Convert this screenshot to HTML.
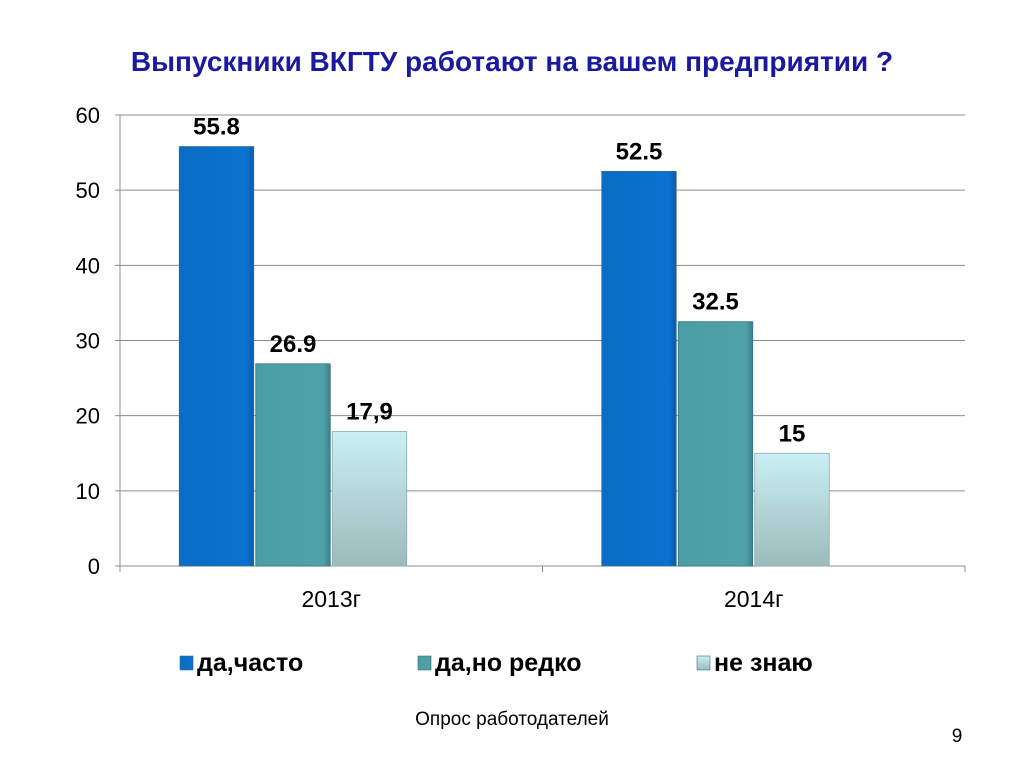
<!DOCTYPE html>
<html><head><meta charset="utf-8"><style>
body{margin:0;background:#fff;}
svg{display:block;font-family:"Liberation Sans","DejaVu Sans",sans-serif;}
</style></head><body>
<svg id="c" width="1024" height="768">
<defs>
<linearGradient id="g0" x1="0" x2="1"><stop offset="0" stop-color="#0a6cc4"/><stop offset="0.9" stop-color="#0a72d0"/><stop offset="1" stop-color="#0a5aa8"/></linearGradient>
<linearGradient id="g1" x1="0" x2="1"><stop offset="0" stop-color="#4a9ea4"/><stop offset="0.9" stop-color="#4fa3a8"/><stop offset="1" stop-color="#3b8288"/></linearGradient>
<linearGradient id="g2" x1="0" x2="0" y1="0" y2="1"><stop offset="0" stop-color="#c9f0f4"/><stop offset="1" stop-color="#9dbabc"/></linearGradient>
</defs>
<text x="512" y="71" text-anchor="middle" font-size="28" font-weight="bold" fill="#1a1aa0">Выпускники ВКГТУ работают на вашем предприятии ?</text>
<text x="512" y="725" text-anchor="middle" font-size="19" fill="#000">Опрос работодателей</text>
<text x="957" y="742" text-anchor="middle" font-size="19" fill="#000">9</text>
</svg>
<script>
const categories=["2013г","2014г"];
const seriesNames=["да,часто","да,но редко","не знаю"];
const s0=[55.8,52.5];
const s1=[26.9,32.5];
const s2=[17.9,15];
const labels0=["55.8","52.5"];
const labels1=["26.9","32.5"];
const labels2=["17,9","15"];
const yTicks=[0,10,20,30,40,50,60];

const svg=document.getElementById('c');
const NS="http://www.w3.org/2000/svg";
const L=120,R=965,T=115,B=566,YMAX=60;
const y=v=>B-(v/YMAX)*(B-T);
const catW=(R-L)/categories.length;
const cx=i=>L+catW*(i+0.5);
const bw=76.5;
function mk(tag,attrs){const e=document.createElementNS(NS,tag);for(const k in attrs)e.setAttribute(k,attrs[k]);svg.appendChild(e);return e;}
yTicks.forEach(t=>{
  const g=mk('line',{x1:L,x2:R,y1:y(t),y2:y(t),stroke:'#8c8c8c','stroke-width':1});
  
  
  const tk=mk('line',{x1:L-5,x2:L,y1:y(t),y2:y(t),stroke:'#8c8c8c'});
  
  
  const tx=mk('text',{x:L-20,y:y(t)+8,'text-anchor':'end','font-size':22,fill:'#000'});
  tx.textContent=t;
  
  
});
const ax=mk('line',{x1:L,x2:L,y1:T,y2:B+5,stroke:'#8c8c8c'});


for(let i=0;i<=categories.length;i++){
  const t=mk('line',{x1:L+catW*i,x2:L+catW*i,y1:B,y2:B+6,stroke:'#8c8c8c'});
  
  
}
const series=[s0,s1,s2],labs=[labels0,labels1,labels2];
categories.forEach((c,i)=>{
  series.forEach((s,j)=>{
    const x0=cx(i)-2*bw+j*bw;
    const r=mk('rect',{x:x0+1,y:y(s[i]),width:bw-2,height:B-y(s[i]),fill:'url(#g'+j+')',stroke:j==2?'#8fa9ab':'#3a6f80','stroke-width':0.8});
    
    
    const tl=mk('text',{x:x0+bw/2,y:y(s[i])-12,'text-anchor':'middle','font-size':24,'font-weight':'bold',fill:'#000'});
    tl.textContent=labs[j][i];
    
    
  });
  const xl=mk('text',{x:cx(i),y:607,'text-anchor':'middle','font-size':23,fill:'#000'});
  xl.textContent=c;
  
  
});
const lx=[180,418,697],fills=['url(#g0)','url(#g1)','url(#g2)'];
seriesNames.forEach((n,j)=>{
  const sq=mk('rect',{x:lx[j],y:656,width:13,height:14,fill:fills[j],stroke:'#4a6a80','stroke-width':0.6});
  
  
  const t=mk('text',{x:lx[j]+17,y:671,'font-size':25,'font-weight':'bold',fill:'#000'});
  t.textContent=n;
  
  
});
</script>
</body></html>
